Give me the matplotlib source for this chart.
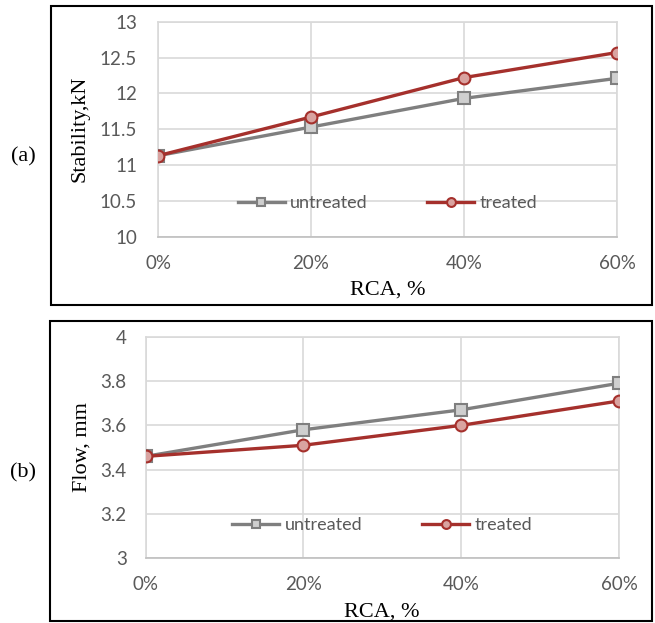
import matplotlib.pyplot as plt
from matplotlib.patches import Rectangle

# data
rca = [0, 20, 40, 60]
rca_labels = ['0%', '20%', '40%', '60%']
stab_ticks = [10, 10.5, 11, 11.5, 12, 12.5, 13]
stab_ticklabels = ['10', '10.5', '11', '11.5', '12', '12.5', '13']
flow_ticks = [3, 3.2, 3.4, 3.6, 3.8, 4]
flow_ticklabels = ['3', '3.2', '3.4', '3.6', '3.8', '4']
stab_untreated = [11.13, 11.53, 11.93, 12.21]
stab_treated = [11.13, 11.67, 12.22, 12.57]
flow_untreated = [3.46, 3.58, 3.67, 3.79]
flow_treated = [3.46, 3.51, 3.60, 3.71]

grey = '#7f7f7f'
red = '#a5302c'
tickcol = '#595959'
gridcol = '#d9d9d9'

fig = plt.figure(figsize=(6.55, 6.23), dpi=100)

# panel frames
fig.patches.append(Rectangle((51/655, 1-305/623), 601/655, 299/623, transform=fig.transFigure,
                             fill=False, edgecolor='black', lw=1.5))
fig.patches.append(Rectangle((50/655, 1-621/623), 602/655, 300/623, transform=fig.transFigure,
                             fill=False, edgecolor='black', lw=1.5))

ax1 = fig.add_axes([158/655, 1-236.7/623, 459/655, 215/623])
ax2 = fig.add_axes([145.5/655, 1-558.3/623, 473.5/655, 221.6/623])

def style(ax, ylim, yticks, yticklabels, ylabel, unt, trt, legy, ypad, ylab_x, xlab_y):
    l1, = ax.plot(rca, unt, color=grey, lw=2.4, marker='s', ms=8.5, mfc='#cfcfcf', mec=grey, mew=1.5, zorder=3)
    l2, = ax.plot(rca, trt, color=red, lw=2.4, marker='o', ms=8.5, mfc='#d9a3a0', mec=red, mew=1.5, zorder=4)
    ax.set_xlim(0, 60)
    ax.set_ylim(*ylim)
    ax.set_xticks(rca)
    ax.set_xticklabels(rca_labels)
    ax.set_yticks(yticks)
    ax.set_yticklabels(yticklabels)
    ax.grid(True, color=gridcol, lw=1.2)
    ax.set_axisbelow(True)
    for s in ax.spines.values():
        s.set_color(gridcol)
        s.set_linewidth(1.2)
    ax.spines['bottom'].set_color('#bfbfbf')
    ax.tick_params(length=0, labelcolor=tickcol, labelsize=13.5)
    ax.tick_params(axis='x', pad=13)
    ax.tick_params(axis='y', pad=ypad)
    for t in ax.get_xticklabels() + ax.get_yticklabels():
        t.set_fontfamily('Lato')
    ax.set_ylabel(ylabel, family='Liberation Serif', fontsize=16)
    ax.set_xlabel('RCA, %', family='Liberation Serif', fontsize=16)
    ax.yaxis.set_label_coords(ylab_x, 0.5)
    ax.yaxis.label.set_va('center')
    ax.xaxis.set_label_coords(0.5, xlab_y)
    ax.xaxis.label.set_va('center')
    ax.legend([l1, l2], ['untreated', 'treated'], loc='center', bbox_to_anchor=(0.5, legy),
              ncol=2, frameon=False, prop={'family': 'Lato', 'size': 13}, labelcolor=tickcol,
              columnspacing=3.3, handlelength=2.6, handletextpad=0.3, markerscale=0.75)

style(ax1, (10, 13), stab_ticks, stab_ticklabels, 'Stability,kN',
      stab_untreated, stab_treated, 0.155, 15, (80-158)/459, (236.7-290)/215)
style(ax2, (3, 4), flow_ticks, flow_ticklabels, 'Flow, mm',
      flow_untreated, flow_treated, 0.15, 13.5, (82-145.5)/473.5, (558.3-611.7)/221.6)

fig.text(23/655, 1-157/623, '(a)', family='Liberation Serif', fontsize=16, ha='center', va='center')
fig.text(23/655, 1-473/623, '(b)', family='Liberation Serif', fontsize=16, ha='center', va='center')

fig.savefig('out.png', dpi=100)
